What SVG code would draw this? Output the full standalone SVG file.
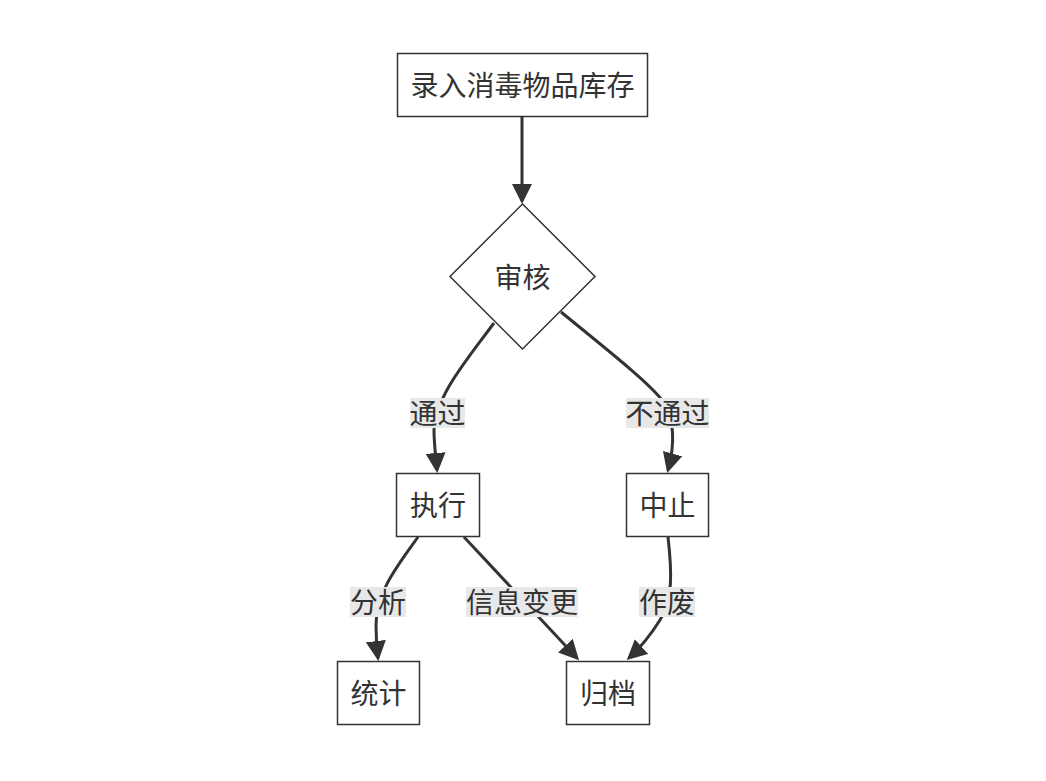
<svg xmlns="http://www.w3.org/2000/svg" width="1046" height="781" viewBox="0 0 1046 781">
<defs>
<style>
.node rect, .node polygon { fill: #ffffff; stroke: #333333; stroke-width: 1.5; }
.t { font-family: "Noto Sans CJK SC", "Noto Sans", sans-serif; font-size: 28px; fill: #333333; text-anchor: middle; dominant-baseline: central; }
.edge { fill: none; stroke: #333333; stroke-width: 3; marker-end: url(#arrow); }
.lbg { fill: #e8e8e8; }
</style>
<marker id="arrow" viewBox="0 0 20 20" refX="17" refY="10" markerWidth="20" markerHeight="20" markerUnits="userSpaceOnUse" orient="auto">
<path d="M0,0 L20,10 L0,20 z" fill="#333333"/>
</marker>
</defs>
<rect width="1046" height="781" fill="#ffffff"/>
<g id="connectors">
<path class="edge" d="M522,116 L522,201"/>
<path class="edge" d="M494,323 C465,362 436,396 434,430 C434,445 436,458 437,470"/>
<path class="edge" d="M561,312 C610,352 648,382 662,400 C675,418 675,445 668,470"/>
<path class="edge" d="M418,537 C398,565 376,592 376,625 C376,640 377,650 378,658"/>
<path class="edge" d="M464,537 L577,658"/>
<path class="edge" d="M668,537 C672,572 673,600 660,620 C650,636 640,648 629,658"/>
</g>
<g id="labels">
<g id="label-pass"><rect class="lbg" x="410" y="398" width="55" height="30"/><text class="t" x="437.5" y="412">通过</text></g>
<g id="label-fail"><rect class="lbg" x="626" y="398" width="83" height="30"/><text class="t" x="667.5" y="412">不通过</text></g>
<g id="label-analyze"><rect class="lbg" x="350" y="587" width="56" height="30"/><text class="t" x="378" y="601">分析</text></g>
<g id="label-change"><rect class="lbg" x="466" y="587" width="112" height="30"/><text class="t" x="522" y="601">信息变更</text></g>
<g id="label-void"><rect class="lbg" x="639" y="587" width="56" height="30"/><text class="t" x="667" y="601">作废</text></g>
</g>
<g id="node-input" class="node"><rect x="397.5" y="53.5" width="250" height="63"/><text class="t" x="522.5" y="84">录入消毒物品库存</text></g>
<g id="node-review" class="node"><polygon points="522.5,204 595,276.5 522.5,349 450,276.5"/><text class="t" x="522.5" y="276">审核</text></g>
<g id="node-exec" class="node"><rect x="396.5" y="473.5" width="83" height="63"/><text class="t" x="438" y="504">执行</text></g>
<g id="node-stop" class="node"><rect x="626.5" y="473.5" width="82" height="63"/><text class="t" x="667.5" y="504">中止</text></g>
<g id="node-stats" class="node"><rect x="337.5" y="661.5" width="82" height="63"/><text class="t" x="378.5" y="692">统计</text></g>
<g id="node-archive" class="node"><rect x="566.5" y="661.5" width="83" height="63"/><text class="t" x="608" y="692">归档</text></g>
</svg>
